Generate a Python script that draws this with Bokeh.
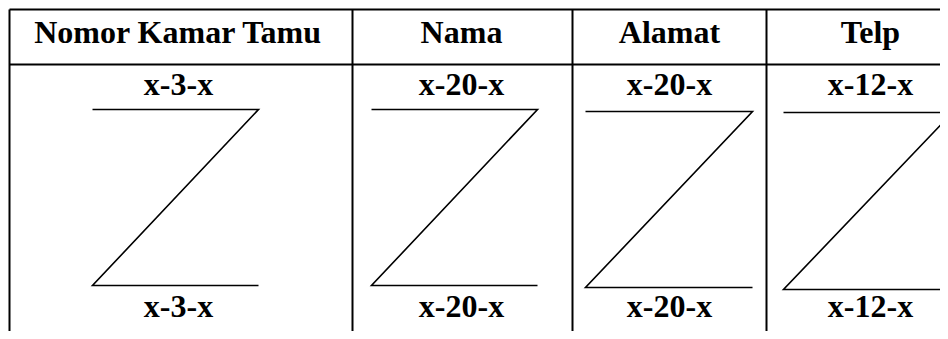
from bokeh.plotting import figure
from bokeh.models import Range1d, ColumnDataSource
from bokeh.embed import file_html
from bokeh.resources import INLINE
from bokeh.core.properties import value

# ---- content ----
headers = ["Nomor Kamar Tamu", "Nama", "Alamat", "Telp"]
top_labels = ["x-3-x", "x-20-x", "x-20-x", "x-12-x"]
bottom_labels = ["x-3-x", "x-20-x", "x-20-x", "x-12-x"]

# ---- layout (pixel coordinates, y grows downward) ----
col_edges = [9, 352, 572, 766, 990]
text_x = [178, 461, 669, 870]
z_left = [92, 371, 585, 783]
z_right = [258, 537, 752, 952]
z_top = [109, 109, 111, 112]
z_bottom = [285, 285, 287, 289]
table_top, header_bottom, table_bottom = 9, 64, 345
header_baseline, top_baseline, bottom_baseline = 31, 83, 305

p = figure(width=940, height=331, x_range=Range1d(0, 940), y_range=Range1d(331, 0),
           output_backend="svg", toolbar_location=None, min_border=0,
           x_axis_type=None, y_axis_type=None)
p.grid.visible = False
p.outline_line_color = None
p.background_fill_color = "white"
p.border_fill_color = "white"

# table rules
p.segment(x0=col_edges[:4], y0=[table_top] * 4, x1=col_edges[:4], y1=[table_bottom] * 4,
          line_color="black", line_width=2)
p.segment(x0=[col_edges[0]] * 2, y0=[table_top, header_bottom],
          x1=[col_edges[-1]] * 2, y1=[table_top, header_bottom],
          line_color="black", line_width=2)

# Z shapes
zs = ColumnDataSource(dict(
    xs=[[l, r, l, r] for l, r in zip(z_left, z_right)],
    ys=[[t, t, b, b] for t, b in zip(z_top, z_bottom)],
))
p.multi_line(xs="xs", ys="ys", source=zs, line_color="black", line_width=1.6,
             line_join="miter")

font = value("Liberation Serif")
common = dict(text_font=font, text_font_style="bold", text_font_size="32px",
              text_color="black", text_align="center", text_baseline="alphabetic")
p.text(x=text_x, y=[header_baseline] * 4, text=headers, **common)
p.text(x=text_x, y=[top_baseline] * 4, text=top_labels, **common)
p.text(x=text_x, y=[bottom_baseline] * 4, text=bottom_labels, **common)

open("out.html", "w").write(file_html(p, INLINE))
